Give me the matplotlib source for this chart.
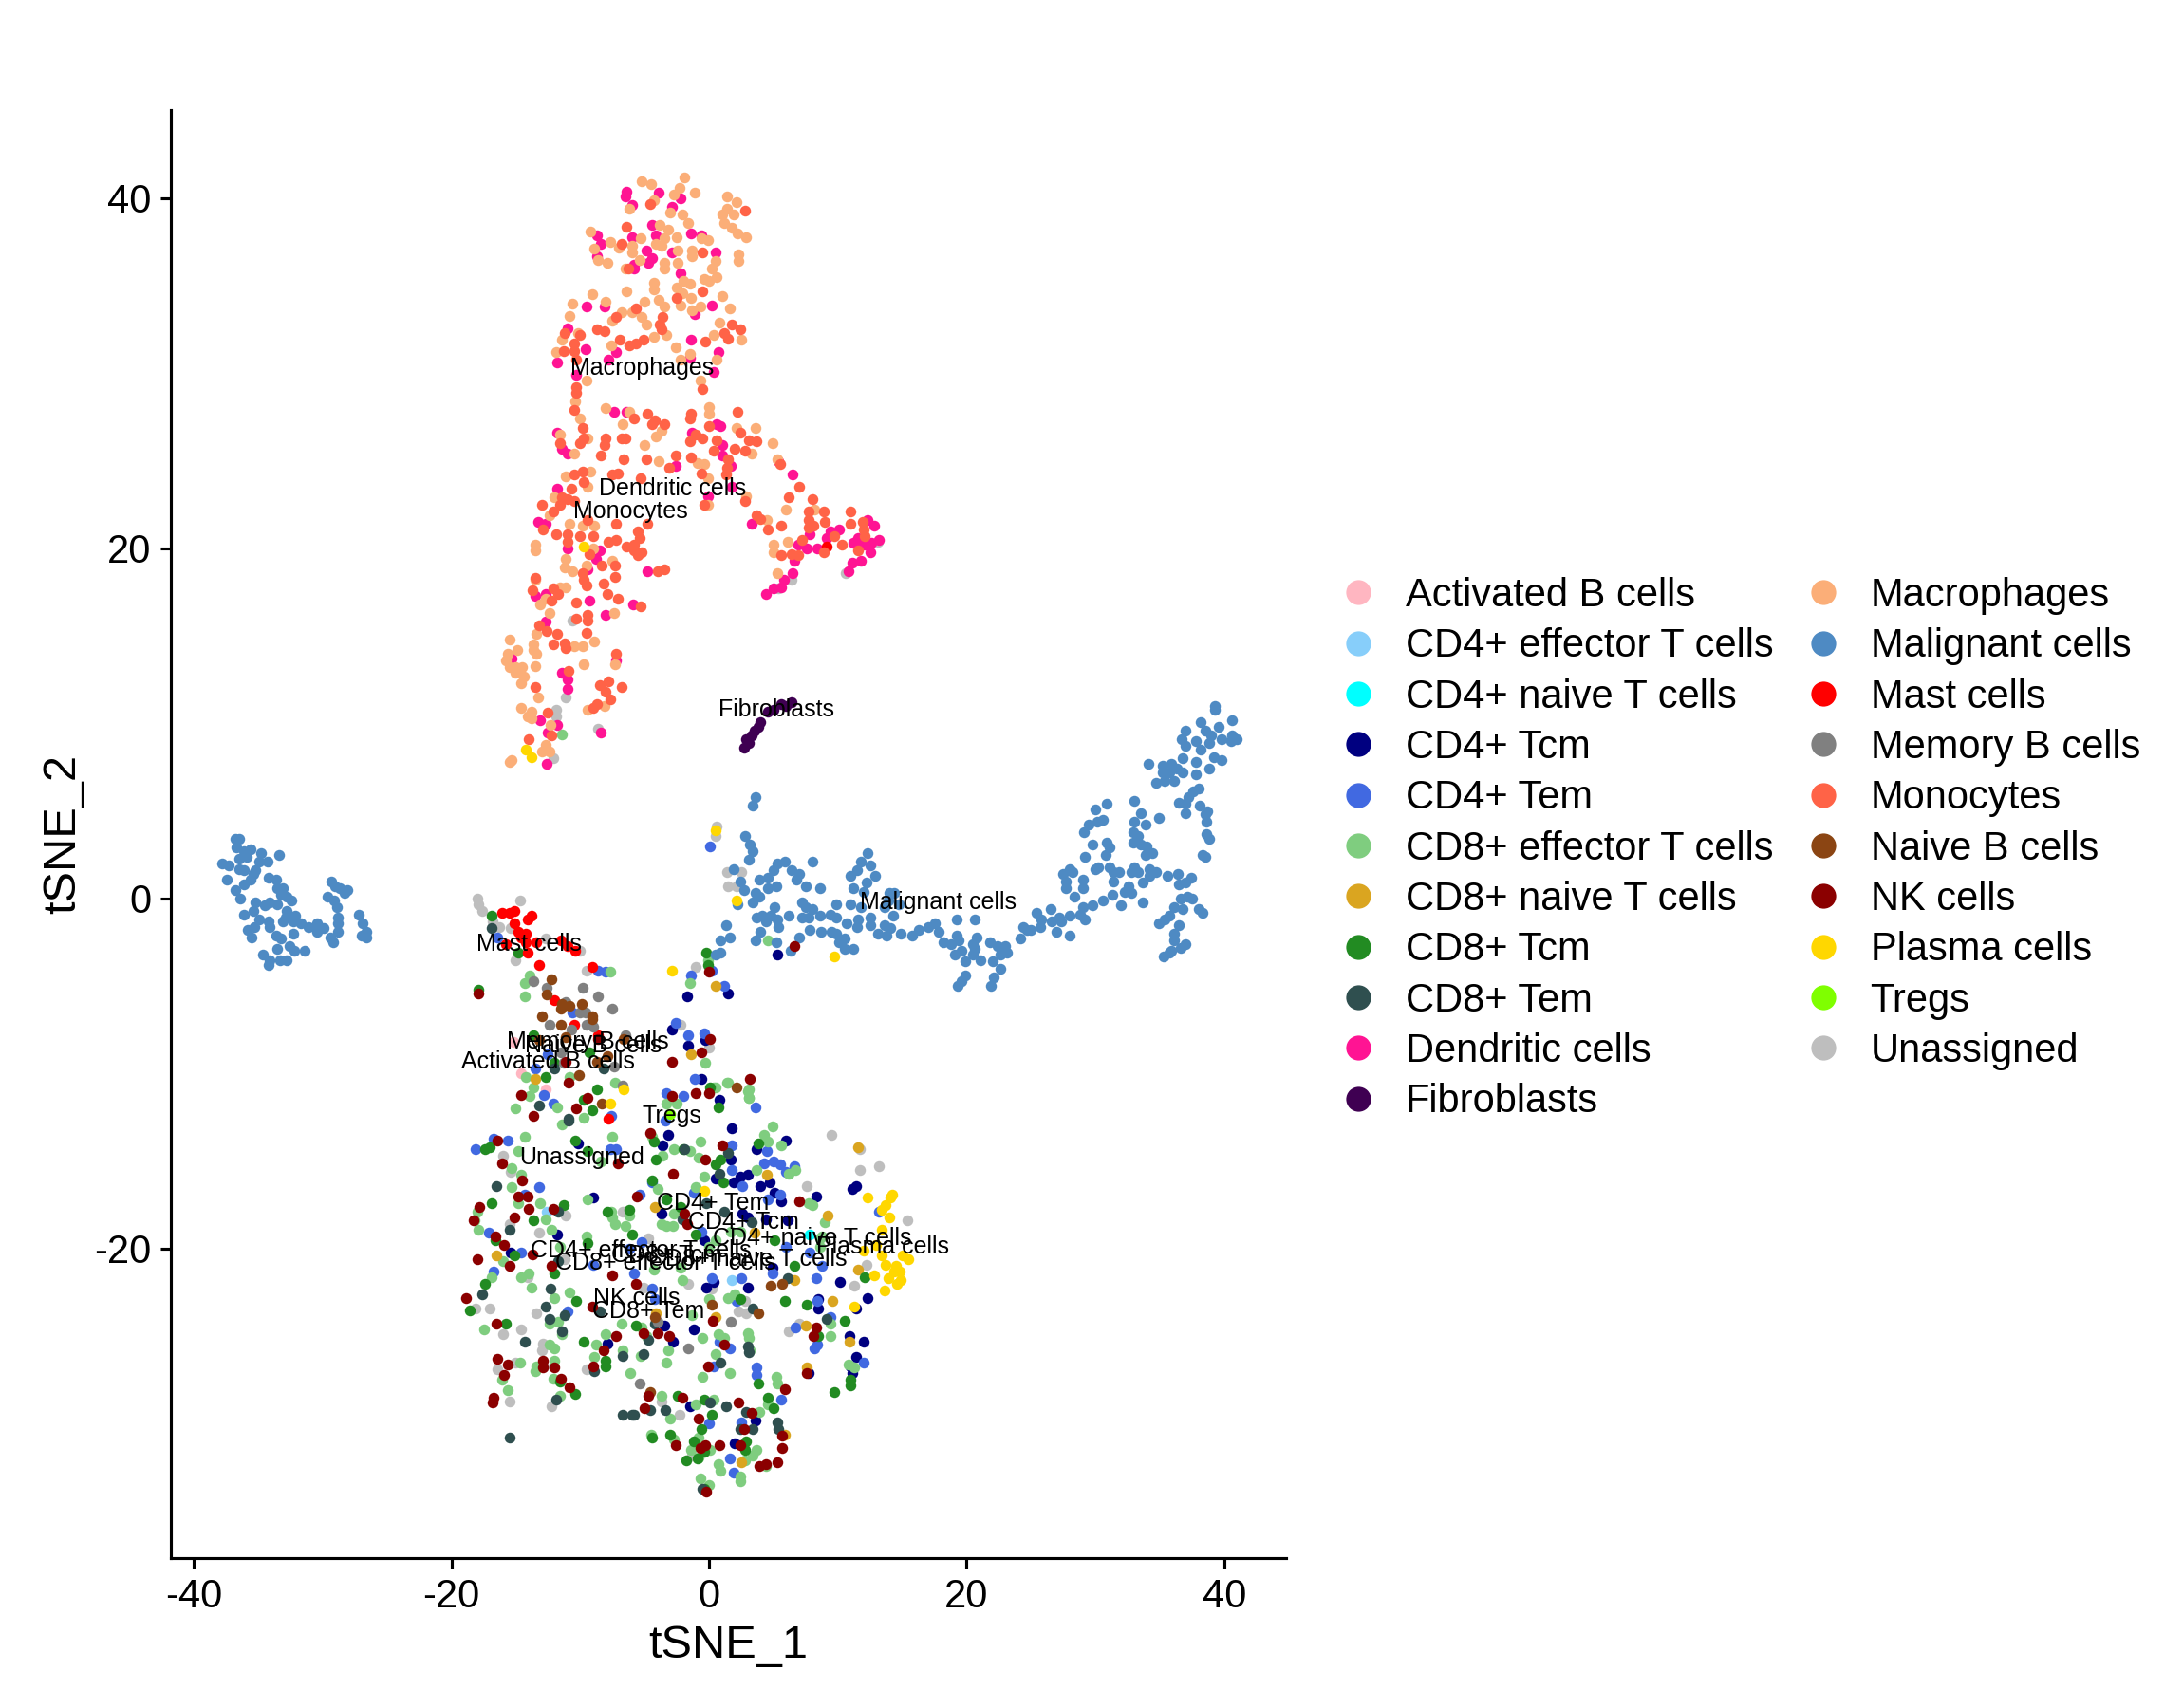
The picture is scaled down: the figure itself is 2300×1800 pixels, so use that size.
import matplotlib
matplotlib.use("Agg")
import matplotlib.pyplot as plt
from matplotlib.lines import Line2D

plt.rcParams['font.family'] = ['Liberation Sans', 'DejaVu Sans']
plt.rcParams['axes.unicode_minus'] = False

activated_b = [(-15.2,-8.2),(-12.7,-10.9),(-14.6,-10.0)]
cd4_effector = [(-12.6,-17.9),(1.8,-21.8)]
cd4_naive = [(7.8,-19.2)]
cd4_tcm = [(-1.7,-5.6),(1.5,-5.4),(-2.9,-7.5),(-1.6,-8.4),(-0.3,-8.1),(-0.6,-10.3),(0.8,-11.5),(5.3,-3.2),
(-10.2,-14),(-3.2,-13.5),(-3.6,-14.1),(1.8,-13.1),(6,-13.8),(3.7,-14.3),(1.7,-14.9),(0.5,-16),(1.9,-16.2),(2.4,-15.9),(3,-15.8),(4,-16.4),(4.7,-16.2),(5.1,-16.8),(5.6,-17.3),(8.3,-17),(11.1,-16.6),(11.4,-16.4),(-9,-17.1),(-3.7,-18),(2.6,-18),(3,-18.2),(4.4,-18.3),(6.1,-18.4),(-11.8,-19.2),(-0.4,-19.5),(-15.4,-20.2),
(0.4,-21.9),(-0.2,-22.2),(3,-22.2),(10.2,-21.9),(12.3,-22.8),(11.4,-23.4),(8.5,-22.9),(8.5,-23.4),(-3.5,-24.4),(-1.2,-24.6),(-2.8,-25.3),(-7.9,-25.4),(10.9,-25),(12,-25.3),(11.4,-26.2),(11,-26.7),(11.1,-27.1),(7.7,-27.1),(-1.5,-29),(3.6,-29.8),(2,-31.1),(4.9,-21.1)]
cd4_tem = [(-16.4,-2.2),(-8.6,-4.1),(-8,-4.2),(-10.6,-6.5),(0.1,3),(-1.4,-4.4),(0.2,-4.1),(1.2,-5),(-2.6,-7.1),(-1.6,-7.8),(-0.4,-7.7),(-12.5,-8.9),(-13.5,-9.7),(-12.8,-11.2),(-12.1,-11.7),(-1.1,-10.3),(-3.3,-11.1),(-2,-11.3),(-7.6,-12.4),(3.6,-11.9),
(-16.7,-13.7),(-15.6,-13.8),(-18.1,-14.3),(-7.7,-14.3),(-7.2,-14.3),(1.8,-14.1),(4.5,-14.4),(4.3,-15.1),(5,-15),(5.5,-15.2),(6,-15.6),(6.6,-15.3),(1.8,-15.5),(2.6,-16.4),(-4.4,-16.2),(4.6,-17.2),(5.5,-16.9),(-13.2,-16.5),(-14.3,-16.9),(-5.4,-16.9),(-1.2,-16.8),(-17.1,-19.1),(-14.6,-20.2),(-0.6,-19),(-5.2,-19.6),(-6.2,-20),(13.2,-17.9),(6,-19.9),(-3.4,-12.7),
(-16.7,-21.3),(-11,-23.6),(-9,-20.9),(-5.8,-21.4),(-4.4,-22.3),(-4.2,-22.9),(0.2,-21.7),(2.5,-21.7),(4.9,-21.4),(8.3,-21.7),(7.8,-20.2),(8.8,-21),(2.1,-23),(8.4,-23),(9.4,-23.9),(6.7,-24.5),(0.8,-25.3),(1.6,-25.7),(0.4,-26.7),(3.7,-26.8),(3.7,-27.2),(5.6,-28.6),(8.4,-25.5),(8.2,-25.7),(12,-26.5),(0,-30),(2.5,-29.9),(1.6,-32),(1.9,-32.8)]
cd8_effector = [(-11.4,9.4),(4.6,-2.4),(-13.9,-4.4),(-14.3,-4.8),(-14.3,-5.6),(-7.7,-4.2),(-0.1,-3.5),(-1.5,-4.8),(-0.3,-9.4),(-14.2,-10.2),(-13.6,-10.8),(-13.9,-11.3),(-7.3,-10.5),(-10.8,-10.2),(1.5,-10.5),(0.4,-10.8),(3.1,-10.9),(3.1,-11.4),(-15,-12),(-11.8,-11.9),(-9.7,-12.5),(-3.3,-11.7),(-2.5,-11.7),(1.4,-10.5),(3,-11),(3.1,-11.4),(0.5,-10.8),(-11.4,-12.9),
(-14.3,-13.6),(-7.5,-13.6),(-4.4,-13.6),(-2.7,-14.3),(-1.5,-14.4),(-0.7,-13.9),(-0.8,-14.8),(4.9,-13),(4.3,-13.5),(4.6,-13.9),(5.6,-14.1),(-3.6,-14.7),(-14.8,-14.4),(-8.4,-15),(-15.3,-15.4),(-14.6,-15.8),(-15.3,-16.5),(-4,-16.6),(-0.4,-15.9),(-1,-16.5),(3.7,-15.5),(6.2,-15.7),(6.7,-15.5),(-9.4,-17.2),(-14.8,-17.4),(-13.1,-17.4),(-18,-17.9),(-18.2,-18.4),(-17.9,-18.9),(-12.7,-18.3),(-12.2,-18.9),(-9.5,-19.3),(-7.6,-17.9),(-7.5,-18.2),(-7.3,-18.6),(-6.2,-18.1),(-6.5,-18.7),(-2.7,-18),(-3.7,-18.6),(-3.3,-18.7),(-2.8,-18.7),(7.7,-17.4),(8,-17.5),(9,-18.5),(8.8,-19.3),(8.6,-19.9),(0,-19.9),(0.5,-19.5),(1.7,-19),(2.4,-19),(-11.6,-19.9),(-16,-20.7),(-14,-21.4),
(-16.9,-21.6),(-14.6,-21.6),(-13.8,-22.2),(-17.5,-24.6),(-12,-22.8),(-10.8,-22.5),(-12.4,-24.3),(-11.7,-24.2),(-11.4,-24.9),(-12.4,-25.5),(-12,-25.7),(-14.7,-26.5),(-13.4,-26.7),(-13.5,-27),(-12,-26.4),(-12.1,-27.4),(-16.1,-27.5),(-15.6,-28.1),(-11.6,-28.4),(-8.9,-26.2),(-8.8,-25.5),(-8,-24.9),(-6.8,-24.3),(-5.2,-24.5),(-6.7,-25.8),(-5.3,-26.1),(-3.3,-26.5),(-3.2,-25.8),(-6.1,-27.1),(-4.9,-25),(-0.5,-25.1),(0.7,-24.9),(1.2,-25.1),(3,-24.8),(3.1,-25.1),(3.2,-25.8),(0.5,-26),(1.6,-27.1),(-0.5,-27.3),(0,-22.9),(1.5,-22.8),(2,-22.6),(-2.1,-21.8),(-1.3,-23.8),(9.4,-24.3),(9.4,-25),(5.2,-27.3),(5.3,-27.7),(11.3,-26.8),(10.8,-26.6),(-3.7,-28.4),(-1,-28.9),(0.4,-28.6),(4.6,-28.9),(3.9,-29.3),(-3,-29.7),(-4.5,-30.6),(-2.7,-30.9),(-0.8,-30.8),(-1.4,-31.5),(-0.8,-31.9),(0.1,-31.5),(3.7,-31.5),(3.4,-31.8),(2.8,-32.1),(0.7,-32.3),(0.9,-32.7),(4.4,-32.4),(2.4,-33),(2.4,-33.3),(-0.7,-33.1),(0,-33.5),(-2.2,-21.1),(-4.3,-21.2),(8.6,-19.4)]
cd8_naive = [(-1.4,-8.9),(0.5,-5),(-13.5,-10.3),(11.6,-14.2),(4.5,-15.8),(-4.2,-17.6),(9.2,-18.1),(3.5,-19.1),(-16.5,-20.4),(11.6,-21.2),(6.6,-21.8),(9.6,-23),(7.5,-24.4),(10.9,-25.3),(7.6,-26.8),(-4.1,-23.7),(0.5,-23.9),(2.5,-32.2),(5.9,-30.6)]
cd8_tcm = [(-16.9,-1),(-14.8,-3.1),(-17.9,-5.2),(-0.2,-3.1),(-0.1,-3.8),(-8.7,-10.9),(-12.7,-10.2),(0.1,-10.8),(0.7,-11.9),(-9.7,-11.5),(-9.1,-12.1),(-9.3,-8.8),(-13.6,-7.8),(-12,-9.4),
(-10.4,-13.8),(-4.3,-13.9),(-2,-14.3),(-4.1,-14.9),(0.9,-14.9),(0.5,-15.2),(3.8,-14),(-17.4,-14.3),(-17,-14.2),(-9.4,-14.4),(-4.4,-16.1),(1.1,-16.2),(-16.9,-17.4),(-11.3,-17.5),(-7.9,-17.9),(-6.2,-17.8),(-3.3,-17.2),(-2.2,-17.6),(-13.6,-18.4),(-6,-19.2),(5.1,-19.5),(-16.6,-19.5),(-9.4,-19.7),(-15.1,-20.4),(-1,-19.2),(6.6,-21),
(-18.6,-23.5),(-17.4,-22),(-15.8,-24.3),(-12,-21.4),(-10.3,-23),(-9.7,-25.3),(-8,-26.7),(-8,-26.4),(-5.7,-24.4),(-11.6,-27.6),(-10.4,-28.3),(2.4,-22.9),(5.9,-23),(7.6,-23.2),(10.5,-24.1),(8.5,-25),(12.1,-21.6),(3.8,-27.7),(9.7,-28.2),(11,-27.5),(11,-27.8),(-2.4,-28.4),(-0.4,-28.6),(4.6,-28.5),(5,-29.1),(0.2,-29.5),(-0.6,-30.3),(-4.4,-30.8),(-3,-30.6),(-1.2,-31),(2.9,-31),(2.8,-31.5),(-0.4,-31.6),(-1.8,-32.1),(-0.4,-33.7),(-0.9,-32)]
cd8_tem = [(-16.9,-1.7),(-8.2,-9.7),(-13.2,-11.8),(-10.9,-12.6),(-12,-9.7),(-10.9,-12.7),(-16.5,-16.4),(-11.7,-17.9),(-15.5,-18.9),(1.2,-17.9),(-0.2,-17.4),(-2.1,-18.3),(3.3,-18.5),(1.5,-14.5),(0.8,-15.7),(-1.9,-14.3),
(-17.6,-22.6),(-12.3,-22.3),(-12.7,-23.3),(-12.4,-24),(-11.2,-23.8),(-11.4,-24.7),(-14.3,-25.3),(-8.5,-23.6),(-4.2,-24.3),(-4.7,-25.2),(-5.1,-26),(-6.7,-26.1),(-8.9,-27),(0.9,-26.5),(3,-25.6),(3.1,-25.9),(3.4,-23.4),(9.1,-24),(6.1,-21.7),(-11.9,-28.6),(-6.7,-29.5),(-6,-29.5),(-5.8,-29.5),(-4.6,-29.2),(-3.4,-29.2),(0.1,-28.8),(1.3,-29),(2.9,-29.3),(2.4,-30.3),(3.4,-30.3),(5.3,-29.9),(5.4,-30.3),(-15.5,-30.8),(-0.5,-33.7),(-11.7,-20.7)]
dendritic = [(-6.4,40.4),(-6.5,40.1),(-6,39.6),(-3.9,40.3),(-2.2,40),(-2.9,39.5),(-4.4,38.5),(-4.1,37.9),(-6,37.8),(-8.7,37.9),(-8.4,37.4),(-4.9,37),(-4.4,36.6),(-4.7,36.3),(-5.8,36.2),(-5.8,36),(-2.9,36.9),(-1.4,38),(-0.6,37.9),(0.5,36.9),(-2.2,35.7),(-8.7,36.7),(-9.5,33.8),(-8.1,33.8),(0.2,33.9),(-1.1,33.4),(-11,32.6),(-1.4,31.9),(-9.6,31.4),(-7.2,31.2),(0.7,31.2),(-1.5,30.9),(-7.8,30.8),(-11.8,30.6),(-10.3,29.9),(0.4,30.1),(-7.4,27.8),(-6.4,27.8),(0.6,27.1),(0.9,27),(-1.3,26.6),(-11.8,26.6),(-11.4,25.7),(-11,25.4),(1,25.9),(1,25.3),(1.7,24.7),(5.4,25),(-2.6,24.7),(6.5,24.2),
(-11.8,23.4),(-0.1,23),(1.8,23.5),(-13.3,21.5),(-12.7,21.4),(3.3,21.4),(7.8,20.8),(9.1,20.6),(10.1,21.1),(9.4,21),(12.3,21.6),(12.8,21.3),(6.9,20.2),(7.6,20),(8.4,20),(11.2,20.3),(11.6,20.6),(11.6,20.2),(12.5,19.8),(12.6,20.3),(12.1,20.2),(13.2,20.5),(6.6,19.3),(11.8,19.3),(11.1,19.2),(10.8,18.7),(6.5,18.6),(5.8,18.2),(5.6,17.8),(5,17.7),(4.4,17.4),(-11,20),(-8.5,19.9),(-8.8,19.4),(-9.4,18.8),(-4.8,18.7),(-12.7,17.4),(-13.5,17.3),(-9.3,17),(-5.9,16.8),(-8,16.2),(-12.7,15.8),(-15.3,13.7),(-7.2,13.6),(-11.4,12.9),(-11,12.5),(-11,12),(-13.1,10.2),(-11.8,9.9),(-12.5,9.5),(-8.4,9.5),(-12.6,7.7)]
fibroblasts = [(2.7,8.6),(3.1,8.9),(3.3,9.3),(3.5,9.6),(3.8,9.8),(4,10.1),(5,10.8),(5.6,11.1),(6.4,11.2),(6,11),(4.6,10.7),(2.9,9.1)]
macrophages = [(-5.2,41),(-4.5,40.8),(-1.9,41.2),(-2.3,40.6),(-2.7,40.2),(-1.1,40.3),(-4.3,39.9),(-3,39.2),(-2.1,39.1),(-1.6,38.6),(-6.2,39.4),(1.4,40.1),(2.1,39.8),(1,39.1),(1.4,39.4),(1.9,39.1),(1.2,38.6),(1.8,38.3),(2.2,38),(2.9,37.8),(2.3,36.8),(2.3,36.4),(-3.8,38.5),(-3.2,38.2),(-2.5,37.8),(-3.5,37.7),(-4.1,37.4),(-3.7,37.3),(-5.3,37.7),(-6,37.3),(-6,36.9),(-7.7,37.5),(-7,37.2),(-9.2,38.1),(-8.9,37.1),(-8.6,36.5),(-7.9,36.3),(-6.5,36),(-5.4,36.5),(-3.5,36.3),(-3.5,36),(-2.4,36.3),(-2.4,37),(-1.3,37),(-1.3,36.7),(-0.6,37.7),(-0.1,37.6),(0.5,36.4),(0.2,36),(0.6,35.5),(-0.4,35.4),(0,35.3),(-2,35.3),(-1.5,35.1),(-4.3,35.2),(-4.3,34.8),(-6.4,34.7),(-2.5,34.9),(-2.1,34.6),(-1.4,34.3),(-2.2,33.9),(1,34.4),(1.6,33.7),(-0.7,33.8),(-1.3,33.6),(-3.9,34.2),(-3.5,33.8),(-5,34.1),(-6.8,33.5),(-6,33.5),(-7.5,33),(-9.1,34.5),(-8,34.1),(-10.6,34),(-10.8,33.3),(0.8,32.9),(0.4,32.2),(2.5,31.9),(-5.2,33.2),(-4.9,32.8),(-4.3,32.1),(-3.3,32.2),(-2.6,31.5),(-10.2,32.3),(-11.4,31.9),(-11.9,31.2),(-7.6,31.6),(-2.2,30.8),(-1.5,31.1),(0.6,30.8),(-0.7,29.6),(-9.5,29.6),(-10.4,28.4),(-8,28),(-10,27.4),(0,28.1),(0,27.7),(2.1,26.9),(3.6,26.9),(4.9,26),(5.3,25.1),(-6.7,27.1),(-6.2,27.8),(-3.7,26.7),(-4.1,26.4),(-9.4,26.3),(-11.6,26.5),(-10.5,25.4),(-5,25.9),(-3.9,25),(-0.4,24.8),(-0.9,24.9),(3.3,25.4),(-9.2,24.4),(-11.1,24.1),(-9.4,23.5),(-0.1,24),(2.9,23),
(-12,22.9),(-12.4,21.9),(-10.8,21.4),(-9.8,21.3),(-8.9,21.3),(-13.5,20.2),(-13.5,19.9),(-9,20),(-11.1,19.4),(-11.2,18.9),(-10.6,18.7),(-9.5,19),(-7.5,19.3),(-13.5,18.2),(6,22.2),(4.5,21.6),(8.2,22.2),(6.1,20.4),(5,20.2),(5,19.8),(5.3,18.6),(-0.1,22.5),(-11.6,17.8),(-11.1,17.8),(-12.7,17.1),(-13.1,16.8),(-12.4,16.3),(-7.4,16.3),(-13.4,15.1),(-15.5,14.8),(-13.6,14.5),(-13.6,14.2),(-13.4,14),(-14.9,14.2),(-15.6,14),(-15.8,13.6),(-15.5,13.2),(-15,13.2),(-14.5,13.2),(-15,12.9),(-14.4,12.7),(-14.6,12.3),(-13.5,13.3),(-10.5,14.4),(-9.8,14.4),(-8.9,14.7),(-9.7,13.4),(-7.3,13.4),(-13.3,11.5),(-14.6,10.9),(-13.8,10.7),(-14.1,10.4),(-13.8,10.3),(-9.4,10.8),(-8.1,11),(-12.3,9.9),(-12.7,8.8),(-13,8.4),(-12.4,8.4),(-15.3,7.9),(-15.5,7.8)]
malignant = [(-36.8,3.4),(-36.5,3.4),(-36.7,2.9),(-36.1,2.7),(-35.6,2.8),(-34.8,2.6),(-33.4,2.5),(-36.5,2.3),(-35.9,2.4),(-34.9,2.1),(-34.3,2.1),(-37.8,2),(-37.3,1.9),(-36.5,1.7),(-36.1,1.6),(-35.2,1.6),(-35.4,1.4),(-37.4,1.1),(-35.6,1.1),(-34.2,1.2),(-33.6,1.1),(-36.1,0.8),(-36.8,0.5),(-33.5,0.6),(-33.1,0.6),(-36.4,0),(-33.2,0.2),(-32.8,0.1),(-32.4,-0.1),(-35.2,-0.2),(-34.1,-0.2),(-33.5,-0.3),(-34.5,-0.4),(-35.4,-0.7),(-36.1,-0.9),(-32.8,-0.7),(-34.9,-1.2),(-34.2,-1.3),(-32.9,-1.1),(-32.1,-1),(-33.1,-1.3),(-32.3,-1.3),(-31.7,-1.4),(-31.1,-1.6),(-30.4,-1.4),(-30.4,-1.9),(-29.9,-1.7),(-35.3,-1.6),(-35.8,-1.8),(-34.1,-1.6),(-32.3,-2),(-33.6,-2.1),(-35.5,-2.2),(-33.2,-2.3),(-29.4,-2.2),(-29.2,-2.5),(-33.5,-2.9),(-32.6,-2.7),(-32.2,-3),(-31.4,-3),(-34.6,-3.2),(-34.1,-3.5),(-34.2,-3.8),(-33.3,-3.5),(-32.8,-3.5),(-29.3,1),(-29,0.7),(-28.7,0.6),(-28.1,0.5),(-28.3,0.3),(-29.6,0.1),(-29.1,-0.1),(-28.9,-0.5),(-28.8,-1.1),(-28.8,-1.4),(-28.8,-1.9),(-27.2,-0.9),(-26.9,-1.4),(-27,-2.1),(-26.6,-1.9),(-26.6,-2.2),
(3.6,5.8),(3.4,5.3),(2.8,3.6),(3.2,3.1),(3.4,2.7),(3.1,2.2),(1.9,1.7),(2.4,1),(2.7,0.5),(3.6,0.3),(3.9,0.1),(3.4,-0.2),(2.2,-0.3),(5.3,2),(5.9,2.1),(5,1.6),(8,2.1),(6.4,1.6),(7,1.4),(6.8,1.1),(3.9,1.1),(4.6,1.2),(5.2,0.7),(4.6,0.6),(7.5,0.7),(8.6,0.6),(7.2,-0.2),(7.5,-0.5),(8,-0.6),(5.1,-0.5),(4.8,-1),(3.7,-1.1),(4.1,-1),(4.4,-1.3),(5.3,-1.2),(6.2,-1),(7.2,-1.1),(7.7,-1.1),(8.6,-1),(5.4,-1.6),(4,-1.9),(3.6,-2.4),(1.3,-1.5),(1.6,-2.2),(0.9,-2.4),(0.9,-3.1),(0.5,-3.2),(5.2,-2.5),(7,-2.2),(7.8,-1.8),(8.7,-1.9),(6.3,-3),(9.4,-0.9),(9.9,-1.1),(9.9,-0.3),(11,-0.3),(9.5,-1.9),(9.9,-2),(10.5,-2.3),(10.1,-2.5),(10.5,-2.9),(11.2,-2.9),(10.7,-1.4),(11.6,-1.2),(11.5,-1.6),(12.5,-1.1),(12.5,-1.5),(13.1,-2),(13.8,-2.1),(13.6,-1.5),(14.1,-1.7),(14.9,-2),(14.3,-1),(11.8,2.1),(12.3,2.6),(12.5,1.9),(11.5,1.6),(11,1.3),(12.9,1.3),(12.2,0.9),(11.2,0.6),(12,0.4),(14,0.3),(14.4,0.3),(13.9,-0.1),(14.7,-0.3),(13.6,-0.5),(11.8,-0.5),(15.8,-2.1),(16.3,-1.8),(17,-1.6),(17.5,-1.4),(17.8,-1.9),(18.2,-2.5),(19.2,-1.2),(20.6,-1.2),(19.2,-2.1),(18.8,-2.6),(19.4,-2.4),(19.1,-3.2),(19.6,-3),(20.5,-2.6),(20.8,-2.2),(20.6,-2.9),(19.9,-3.6),(20.5,-3.2),(21.1,-3.5),(21.8,-2.5),(22.4,-2.7),(23,-2.7),(23.1,-3.1),(22.6,-3.2),(22,-3.6),(22.6,-4),(19.9,-4.4),(19.6,-4.7),(19.3,-5),(22.1,-4.5),(21.9,-5),(24.2,-2.3),(24.4,-1.6),(24.7,-1.8),(25,-1.8),(25.4,-0.8),(25.7,-1.6),(25.8,-1.2),(26.5,-0.6),(26.6,-1.3),(27,-1.9),(27.3,-1.3),(27.2,-1.1),(28,-2.1),(28,-1),(28.8,-0.9),(29.2,-1.2),(29,-0.5),(28.4,0.1),(29.8,-0.4),(27.7,0.6),(27.7,1),(29,1.1),(29,0.6),(27.5,1.4),(28,1.7),(28.2,1.5),(29.2,2.4),(29.8,3.1),(30.2,1.8),(30,1.7),(30.8,2.5),(31.1,2.9),(30.9,3.2),(31.1,1.8),(31.4,1.5),(31.8,1.5),(31.4,1),(30.6,-0.1),(31.3,0.2),(32,-0.4),(32.3,0.4),(32.8,0.3),(32.6,0.7),(33.7,-0.2),(33.7,0.9),(32.8,1.5),(33,1.8),(33.3,1.5),(34.2,1.7),(34.2,1.3),(34.7,1.5),(35.6,1.3),(36.4,1.4),(36.5,0.8),(37,0.9),(37.4,1.2),(36.6,0),(37.1,0.1),(37.5,0),(36.1,-0.5),(36.8,-0.6),(38,-0.6),(38.3,-0.8),(35.7,-1),(34.9,-1.4),(35.4,-1.2),(36.5,-1.5),(36.1,-2),(36.1,-2.4),(37,-2.6),(36.6,-2.8),(35.9,-3),(35.3,-3.3),(35.7,-3.1),
(30,5.1),(30.9,5.4),(30.6,4.5),(30.1,4.4),(29.5,4.2),(29.1,3.8),(33,5.6),(33.5,4.9),(33,4.4),(33.9,4.2),(34.9,4.6),(32.9,3.8),(33.3,3.6),(32.9,3.2),(33.5,3.1),(34,3),(33.9,2.5),(34.4,2.6),(34.1,7.7),(35.2,7.6),(35.9,7.7),(35.2,7.2),(35.7,7.2),(36.3,7.4),(36.8,7.2),(34.7,6.6),(35.4,6.7),(36.1,6.7),(36.8,8),(37.8,7.8),(37.8,7.1),(38.8,7.4),(39.2,8.1),(39.8,7.9),(37,9.6),(36.7,9.1),(37,8.7),(37.8,9),(38.2,8.5),(38.2,10.1),(38.5,9.6),(39,9.3),(38.8,8.9),(39.6,9.8),(39.3,11),(39.3,10.8),(40.6,10.2),(39.8,9.1),(40.6,9.3),(41,9.1),(40.5,9),(38,6.3),(37.6,6.1),(37.2,5.8),(36.5,5.5),(37,5.4),(37,4.9),(38.1,5.3),(38.7,5),(38.5,4.8),(38.6,4.4),(38.6,3.7),(38.8,3.4),(38.3,2.5),(38.5,2.4)]
mast = [(9.1,20.1),(-16.1,-0.8),(-15.5,-0.8),(-15.1,-0.7),(-13.8,-1),(-14.1,-1.2),(-15.1,-1.4),(-14.8,-1.9),(-14.2,-2),(-14.6,-2.2),(-14.2,-2.5),(-15.8,-2.6),(-13.4,-2.5),(-11.5,-2.4),(-11,-2.7),(-10.4,-3),(-14.1,-3.1),(-13.2,-3.8),(-9.1,-3.9),(-12,-5.8),(-10.5,-7.2),(-8.6,-7.8),(-7.8,-12.6)]
memory_b = [(-13.6,-4.7),(-12.6,-5.1),(-9.8,-5.1),(-8.6,-5.6),(-11.1,-5.9),(-7.5,-6.3),(-10,-6.5),(-9.6,-6.5),(-12.4,-7.2),(-10.7,-7.5),(-9.5,-7.2),(-9,-7.3),(-6.5,-7.8),(-11.5,-8.8),(-7.4,-9.6),(-11.3,-9.4),(-6.7,-10.7),(-1.6,-25.7),(1.7,-24.2),(-5.4,-27.7),(-4,-24.2)]
monocytes = [(-4.6,39.7),(-6.4,38.4),(-6.8,37.4),(-0.5,36.9),(2.8,39.3),(-6.3,36),(-0.5,34.7),(-2.5,34.3),(-5.7,33.7),(-3.6,33.2),(-7.2,33.2),(-3.8,32.8),(-3.7,32.5),(-8.7,32.5),(-8.1,32.4),(-11.2,32.3),(-10,32.2),(1.8,32.8),(2.4,32.5),(1.2,32.3),(1.5,32),(-0.3,31.8),(-6.9,31.9),(-6.2,31.6),(-5.7,31.7),(-5.1,31.9),(-10.5,31.7),(-10.5,31.3),(-11.3,31.3),(-10.3,30.8),(-10.3,29.2),(-10.3,28.9),(-0.5,29.1),(-10.5,27.9),(-4.8,27.7),(-1.4,27.7),(-1.5,27.4),(2.2,27.8),(-5.8,27.4),(-4.4,27.1),(-4.2,27.3),(-3.5,27.1),(-9.8,26.9),(-9.7,26.3),(-10,26),(-8,26.3),(-8.1,25.9),(-6.8,26.3),(-6.5,26.3),(-11.6,26),(-8.4,25.3),(-6.6,25.1),(-4.9,25.1),(-2.6,25.3),(-3.1,24.6),(-1.4,25.2),(-1.5,26.1),(-1,26.5),(-0.5,26.3),(0,27),(0.6,26.2),(0.4,25.6),(2.4,26.6),(3.1,26.2),(3.7,26.1),(2,25.7),(2.8,25.6),(1.5,25.1),(1.4,24.6),(1.3,24.2),(-0.6,24.3),(5.5,24.8),(7,23.5),(6.2,22.9),(8,22.8),(-10.5,24.2),(-9.8,24.4),(-9.7,23.8),(-7.5,24.2),(-7.1,24.3),(-5.3,24),(-10.7,23.4),
(-13,22.5),(-11.4,22.9),(-11,22.8),(-11.6,22.5),(-10.5,22.7),(-12.1,22.1),(-0.4,22.5),(2.8,22.7),(7.7,22.1),(8.9,22.1),(11,22.1),(3.7,21.9),(4,21.7),(7.7,21.6),(9,21.5),(5.6,21.3),(4.6,21.1),(11,21.4),(8.1,21.3),(7.7,21.2),(11.9,21.5),(12,21.1),(12.1,20.7),(-12.9,21.1),(-9.4,21.6),(-7.2,21.4),(-4.8,21.4),(-11.9,20.8),(-11,20.8),(-11,20.4),(-10,20.7),(-9,20.7),(-7.8,20.4),(-7.2,20.5),(-5.5,21),(-5.4,20.6),(-6.4,20.1),(-5.8,20.2),(-5.2,19.8),(-5.5,19.6),(-5.8,19.9),(7.2,20.5),(9.7,20.7),(10.3,20.2),(6.4,19.7),(6.9,19.6),(8.9,19.8),(5.6,19.6),(11.6,19.9),(-9.3,19.7),(-8.3,19),(-7.3,19),(-7.3,18.4),(-9.8,18.6),(-9.7,18.2),(-9.5,17.9),(-8.2,18),(-4,18.7),(-3.5,18.8),(-7.9,17.4),(-7.1,17.1),(-13.5,18.3),(-13.7,17.6),(-12.1,17.7),(-11.7,17.4),(-12.2,17),(-10.3,16.9),(-5.3,16.7),(-9.4,16.2),(-9.4,15.9),(-10.3,16),(-13.2,15.6),(-12.6,15.3),(-11.8,15.1),(-9.5,15.2),(-12.1,14.5),(-11.2,14.6),(-11.1,14.3),(-7.2,14),(-10.9,13),(-13.5,12.1),(-7.8,12.4),(-6.8,12.1),(-8.5,12.2),(-8,11.8),(-7.7,11.4),(-8.7,11.1),(-9,10.9),(-12.5,10.6),(-12.2,9.3),(-14,9.1)]
naive_b = [(-12.2,-4.6),(-12.6,-5.5),(-11.5,-6.3),(-11.4,-6),(-10.8,-6.1),(-9.9,-6),(-9.1,-6.7),(-9.1,-6.9),(-13,-6.7),(-11.5,-7.2),(-11.1,-7.9),(-13.2,-8.1),(-6.6,-8),(-7.9,-9),(-8.7,-9.3),(-10.1,-10.1),(2.1,-10.8),(-8.3,-11.7),(4.8,-22.1),(5.7,-22),(0.2,-23.2),(3.8,-23.7),(-4.6,-28.2),(-4.2,-23.9)]
nk = [(0,-4.2),(6.6,-2.7),(-2.9,-9.3),(-0.6,-8.8),(0.1,-8),(-1,-11.1),(0,-11.1),(-2.9,-11.3),(-10.9,-10.5),(-14.6,-11.2),(-9.4,-11.4),(-10.3,-12),(-13.6,-12.4),(3.2,-10.3),(-11.1,-9.3),(-8.6,-8),(-17.9,-5.4),
(-4.6,-13.4),(1,-14.1),(-0.3,-14.9),(-7.1,-15.1),(-2.8,-15.7),(-16.4,-13.8),(-16.1,-15.1),(-14.5,-16.1),(-14.8,-17),(-14.1,-17),(-14,-17.7),(-17.8,-17.6),(-15.1,-18.2),(-12.1,-17.7),(-5.6,-17),(-16.6,-19.3),(-15.9,-19.8),(-18,-20.6),(-15.5,-21),(-13.7,-20.3),(-12.2,-21),(7,-17.3),(-1.7,-18.6),(-1.9,-18),(-18.3,-18.4),
(-18.9,-22.8),(-16.5,-24.3),(-16.4,-26.3),(-15.6,-26.6),(-15.9,-27.2),(-16.7,-28.5),(-16.8,-28.8),(-12.9,-26.4),(-12.9,-26.8),(-12,-26.8),(-11.5,-27.4),(-10.8,-27.9),(-7.5,-21.5),(-5.7,-22),(-9.1,-23.3),(-7.2,-25),(-8.2,-25.8),(-9,-26.7),(-5.1,-24.8),(-4,-24.8),(-3.1,-25),(0.3,-24.1),(1.2,-25.5),(-0.1,-26.7),(8.3,-24.5),(8.1,-25),(7.6,-27.1),(5.9,-28),(-4.7,-28.4),(-2.1,-28.5),(-5,-29.1),(2.3,-28.8),(3.3,-29.4),(-0.8,-29.7),(2.7,-30.3),(5.7,-30.7),(5.7,-31.4),(-2.6,-31.2),(-0.7,-31.4),(-0.3,-31.2),(0.8,-31.2),(2.4,-31.2),(3.9,-32.4),(4.4,-32.3),(5.3,-32.2),(-0.2,-33.9)]
plasma = [(-9.7,20.1),(-14.2,8.5),(-13.8,8.1),(2.1,-0.1),(9.7,-3.3),(-2.9,-4.1),(-6.6,-10.9),(-7.7,-11.7),(0.5,3.9),
(14.2,-16.9),(14.1,-17.1),(12.3,-17.1),(13.7,-17.5),(13.4,-17.8),(14,-18.2),(13.4,-18.9),(-0.4,-16.7),(12,-20.1),(13,-19.8),(13.4,-20.4),(15,-20.4),(15.5,-20.6),(13.7,-20.9),(14.5,-21),(14.8,-21.3),(14.4,-21.3),(12.8,-21.5),(13.9,-21.7),(14.6,-22),(14.9,-21.8),(13.6,-22.4),(11.3,-23.3)]
tregs = [(-3,-12.3)]
unassigned = [(-10.6,15.9),(-11.1,11.5),(-11.9,10.8),(-11.9,10.4),(-8.6,9.7),(-12.1,8),(6.4,18.2),(5.4,17.7),(10.6,18.6),(13.1,20.4),
(-18,0),(-17.9,-0.35),(-17.6,-0.7),(-14.7,-0.1),(-16.8,-1.3),(-16.3,-1.6),(-15.4,-1.7),(-12.7,-2.3),(-10,-3),(-15,-3.5),(-9.5,-4.1),(-1,-3.9),(0.6,4.1),(0.5,3.6),(1.4,1.5),(2.5,1.5),(1.5,0.7),(2.1,0.7),(-2.2,-7.2),(0,-8.5),
(-16,-14.7),(-15.4,-15.6),(9.5,-13.5),(11.7,-14.3),(11.7,-15.5),(13.2,-15.3),(7.6,-16.4),(-11.1,-18.1),(-13.2,-19.1),(-15.5,-18.6),(-6.7,-17.9),(-4.7,-19.4),(15.4,-18.4),
(12.2,-20.9),(11.3,-22.1),(-18.1,-23.4),(-17,-23.4),(-14.1,-21.6),(-13.4,-23.7),(-14.6,-24.6),(-16,-24.9),(-12.9,-25.4),(-13,-25.8),(-15,-26.5),(-16.4,-26.9),(-12.8,-26.7),(-15.5,-28.7),(-12.2,-29),(-9.5,-26.9),(-5.1,-22.2),(-1.6,-22),(0.2,-22.3),(2.3,-23.6),(2.9,-23.7),(2.8,-23),(6.2,-24.7),(7,-24.3),(-3.7,-28.7),(-2.3,-29.5),(-1.3,-31.8),(-11.2,-20.6)]

cell_types = ["Activated B cells","CD4+ effector T cells","CD4+ naive T cells","CD4+ Tcm","CD4+ Tem",
              "CD8+ effector T cells","CD8+ naive T cells","CD8+ Tcm","CD8+ Tem","Dendritic cells","Fibroblasts",
              "Macrophages","Malignant cells","Mast cells","Memory B cells","Monocytes","Naive B cells","NK cells",
              "Plasma cells","Tregs","Unassigned"]
cell_points = [activated_b,cd4_effector,cd4_naive,cd4_tcm,cd4_tem,cd8_effector,cd8_naive,cd8_tcm,cd8_tem,dendritic,
               fibroblasts,macrophages,malignant,mast,memory_b,monocytes,naive_b,nk,plasma,tregs,unassigned]
cell_colors = ["#FFB6C1","#87CEFA","#00FFFF","#000080","#4169E1","#7FCD7F","#DAA520","#228B22","#2F4F4F","#FF1493",
               "#3F0052","#FBAE78","#4E8AC3","#FF0000","#808080","#FF6347","#8B4513","#8B0000","#FFD700","#7FFF00","#BEBEBE"]

label_names = ["Macrophages","Dendritic cells","Monocytes","Fibroblasts","Malignant cells","Mast cells","Memory B cells",
               "Naive B cells","Activated B cells","Tregs","Unassigned","CD4+ Tem","CD4+ Tcm","CD4+ naive T cells",
               "Plasma cells","CD4+ effector T cells","CD8+ Tcm","CD8+ naive T cells","CD8+ effector T cells","NK cells","CD8+ Tem"]
label_x = [-5.2,-2.8,-6.1,5.2,17.8,-14,-9.4,-9,-12.5,-2.9,-9.9,0.3,2.7,8,13.5,-5.3,-3.3,3,-3.4,-5.6,-4.7]
label_y = [30.3,23.4,22.1,10.8,-0.2,-2.6,-8.2,-8.4,-9.3,-12.4,-14.8,-17.4,-18.5,-19.4,-19.9,-20.1,-20.4,-20.6,-20.8,-22.8,-23.6]

W, H = 2300, 1800
fig = plt.figure(figsize=(W/300, H/300), dpi=300, facecolor='white')
ax = fig.add_axes([180/W, 1-1642/H, (1355-180)/W, (1642-116)/H])

for pts, col, name in zip(cell_points, cell_colors, cell_types):
    ax.scatter([p[0] for p in pts], [p[1] for p in pts], s=7.6, c=col, linewidths=0,
               zorder=1.5 if name == "Unassigned" else 2)

for name, x, y in zip(label_names, label_x, label_y):
    ax.text(x, y, name, fontsize=6.0, ha='center', va='center', color='black', zorder=3)

ax.set_xlim(-41.78, 44.8)
ax.set_ylim(-37.67, 45.04)
ax.set_xticks([-40,-20,0,20,40])
ax.set_yticks([-20,0,20,40])
ax.spines['top'].set_visible(False)
ax.spines['right'].set_visible(False)
for s in ('left','bottom'):
    ax.spines[s].set_linewidth(0.75)
ax.tick_params(length=2.6, width=0.75, labelsize=10, pad=2.4)
ax.set_xlabel('tSNE_1', fontsize=11.7, labelpad=2.2)
ax.set_ylabel('tSNE_2', fontsize=11.7, labelpad=2.2)

handles = [Line2D([], [], marker='o', ls='', ms=6.3, mfc=c, mec='none', label=n)
           for n, c in zip(cell_types, cell_colors)]
leg = fig.legend(handles=handles, ncol=2, frameon=False, fontsize=10,
                 loc='upper left', bbox_to_anchor=(1410/W, 1-608/H),
                 borderpad=0, borderaxespad=0, handlelength=1.0, handletextpad=0.7,
                 labelspacing=0.32, columnspacing=0.75)
fig.savefig('out.png', dpi=300, facecolor='white')
